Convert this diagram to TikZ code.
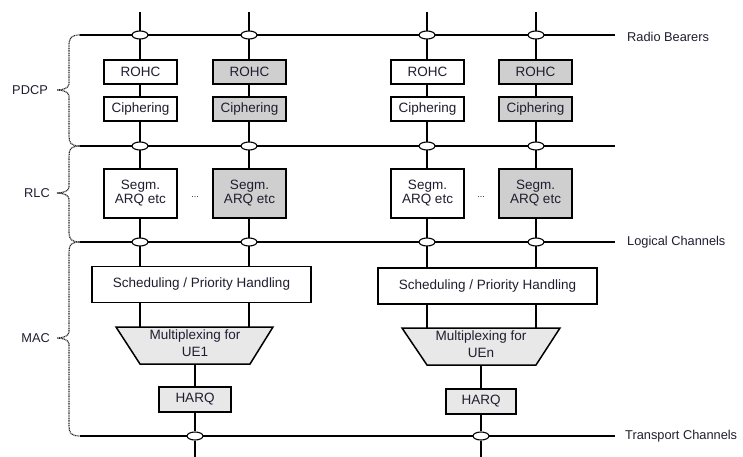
\documentclass[tikz,border=0pt]{standalone}
\usepackage{fontspec}
\setmainfont{Liberation Sans}
\usetikzlibrary{shapes.geometric,backgrounds}
\definecolor{ink}{HTML}{1E1E30}
\definecolor{boxgray}{HTML}{CFCFCF}
\definecolor{muxgray}{HTML}{E8E8E8}
\begin{document}
\begin{tikzpicture}[x=1pt,y=-1pt,
  pbox/.style={draw=black, line width=1.5pt, fill=white, minimum width=73pt,
    minimum height=24pt, inner sep=0pt, font=\fontsize{13.5}{14}\selectfont,
    text=ink, align=center},
  shade/.style={fill=boxgray},
  segbox/.style={pbox, minimum height=49pt},
  schedbox/.style={pbox, minimum width=219pt, minimum height=36pt},
  harqbox/.style={pbox, fill=muxgray, minimum height=25pt},
  muxshape/.style={draw=black, line width=1.5pt, fill=muxgray, line join=miter},
  muxtext/.style={inner sep=0pt, font=\fontsize{13.5}{17}\selectfont, text=ink, align=center},
  port/.style={ellipse, draw=black, fill=white, line width=1.1pt,
    minimum width=16pt, minimum height=8pt, inner sep=0pt},
  bus/.style={line width=1.5pt},
  brace/.style={line width=1.2pt, dash pattern=on 1pt off 0.7pt, draw=black!85},
  lbl/.style={inner sep=0pt, font=\fontsize{12.8}{14}\selectfont, text=ink},
  dots/.style={inner sep=0pt, font=\fontsize{9}{10}\selectfont, text=ink}
]
\useasboundingbox (0,0) rectangle (743,457);

% column tops and bottoms
\coordinate (t1) at (140,12);
\coordinate (t2) at (249,12);
\coordinate (t3) at (427,12);
\coordinate (t4) at (536,12);
\coordinate (b1) at (195,457);
\coordinate (b2) at (481,457);

% layer boundaries
\coordinate (rbL) at (80,35);   \coordinate (rbR) at (615,35);
\coordinate (mdL) at (80,146);  \coordinate (mdR) at (615,146);
\coordinate (lcL) at (80,242);  \coordinate (lcR) at (615,242);
\coordinate (tcL) at (80,436);  \coordinate (tcR) at (615,436);

% PDCP
\node[pbox] (rohc1) at (140.5,72) {ROHC};
\node[pbox,shade] (rohc2) at (249.5,72) {ROHC};
\node[pbox] (rohc3) at (427.5,72) {ROHC};
\node[pbox,shade] (rohc4) at (535.5,72) {ROHC};
\node[pbox] (ciph1) at (140.5,109) {Ciphering};
\node[pbox,shade] (ciph2) at (249.5,109) {Ciphering};
\node[pbox] (ciph3) at (427.5,109) {Ciphering};
\node[pbox,shade] (ciph4) at (535.5,109) {Ciphering};

% RLC
\node[segbox] (seg1) at (140.5,193.5) {Segm.\\ARQ etc};
\node[segbox,shade] (seg2) at (249.5,193.5) {Segm.\\ARQ etc};
\node[segbox] (seg3) at (427.5,193.5) {Segm.\\ARQ etc};
\node[segbox,shade] (seg4) at (535.5,193.5) {Segm.\\ARQ etc};
\node[dots] (dd1) at (195,197) {...};
\node[dots] (dd2) at (481,197) {...};

% MAC
\node[schedbox] (sched1) at (201.5,284.5) {Scheduling / Priority Handling};
\node[schedbox] (sched2) at (487.5,286) {Scheduling / Priority Handling};

\coordinate (m1a) at (116,327); \coordinate (m1b) at (273,327);
\coordinate (m1c) at (250,364); \coordinate (m1d) at (140,364);
\coordinate (m1s) at (195,364);
\filldraw[muxshape] (m1a) -- (m1b) -- (m1c) -- (m1d) -- cycle;
\node[muxtext] (mux1) at (195,343.5) {Multiplexing for\\UE1};

\coordinate (m2a) at (402,328); \coordinate (m2b) at (560,328);
\coordinate (m2c) at (536,365); \coordinate (m2d) at (427,365);
\coordinate (m2s) at (481,365);
\filldraw[muxshape] (m2a) -- (m2b) -- (m2c) -- (m2d) -- cycle;
\node[muxtext] (mux2) at (481,344.5) {Multiplexing for\\UEn};

\node[harqbox, minimum width=72pt] (harq1) at (195,399.5) {HARQ};
\node[harqbox, minimum width=70pt] (harq2) at (481,401.5) {HARQ};

% service access points
\foreach \c/\x in {1/140,2/249,3/427,4/536}{
  \node[port] (pa\c) at (\x,35) {};
  \node[port] (pb\c) at (\x,146) {};
  \node[port] (pc\c) at (\x,242) {};
}
\node[port] (pt1) at (195,436) {};
\node[port] (pt2) at (481,436) {};

% layer names
\node[lbl, anchor=west] (nrb) at (627,37) {Radio Bearers};
\node[lbl, anchor=west] (nlc) at (627,242) {Logical Channels};
\node[lbl, anchor=west] (ntc) at (625,436) {Transport Channels};
\node[lbl, anchor=east] (npdcp) at (48,90) {PDCP};
\node[lbl, anchor=east] (nrlc) at (50,193) {RLC};
\node[lbl, anchor=east] (nmac) at (50,338) {MAC};

\begin{pgfonlayer}{background}
  \draw[bus] (rbL) -- (rbR);
  \draw[bus] (mdL) -- (mdR);
  \draw[bus] (lcL) -- (lcR);
  \draw[bus] (tcL) -- (tcR);
  % channel columns down to the schedulers
  \draw[bus] (t1) -- (sched1.north -| t1);
  \draw[bus] (t2) -- (sched1.north -| t2);
  \draw[bus] (t3) -- (sched2.north -| t3);
  \draw[bus] (t4) -- (sched2.north -| t4);
  % scheduler to multiplexer
  \draw[bus] (sched1.south -| t1) -- (m1a -| t1);
  \draw[bus] (sched1.south -| t2) -- (m1a -| t2);
  \draw[bus] (sched2.south -| t3) -- (m2a -| t3);
  \draw[bus] (sched2.south -| t4) -- (m2a -| t4);
  % multiplexer to HARQ to transport channel
  \draw[bus] (m1s) -- (harq1) -- (pt1) -- (b1);
  \draw[bus] (m2s) -- (harq2) -- (pt2) -- (b2);
  % braces
  \draw[brace] (rbL) .. controls (71,35) and (69,38) .. (69,46) -- (69,84)
     .. controls (69,88) and (63,90) .. (57,90)
     .. controls (63,90) and (69,92) .. (69,96) -- (69,136)
     .. controls (69,143) and (71,146) .. (mdL);
  \draw[brace] (mdL) .. controls (71,146) and (69,149) .. (69,156) -- (69,187)
     .. controls (69,191) and (63,193) .. (57,193)
     .. controls (63,193) and (69,195) .. (69,199) -- (69,232)
     .. controls (69,239) and (71,242) .. (lcL);
  \draw[brace] (lcL) .. controls (71,242) and (69,245) .. (69,252) -- (69,332)
     .. controls (69,336) and (63,338) .. (57,338)
     .. controls (63,338) and (69,340) .. (69,344) -- (69,426)
     .. controls (69,433) and (71,436) .. (tcL);
\end{pgfonlayer}
\end{tikzpicture}
\end{document}
